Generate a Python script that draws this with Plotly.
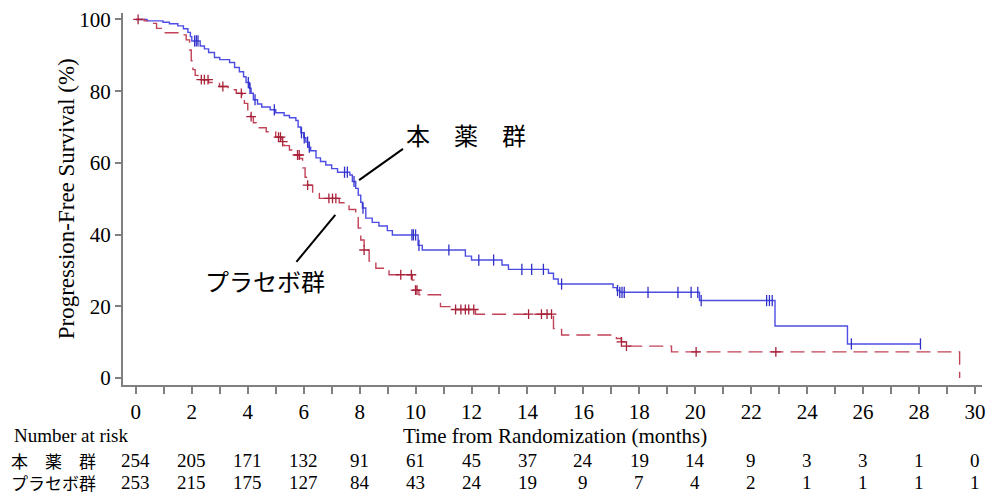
import numpy as np
import plotly.graph_objects as go

# ---- data ----
drug_time = [0, 0.4, 0.97, 1.2, 1.5, 1.7, 1.86, 1.95, 2.0, 2.3, 2.45, 2.6, 2.81, 3.0, 3.35, 3.53, 3.7, 3.85, 3.94,
             4.06, 4.12, 4.2, 4.35, 4.5, 4.8, 5.0, 5.3, 5.49, 5.72, 5.8, 5.9, 6.0, 6.08, 6.15, 6.25, 6.44, 6.6, 6.79,
             7.0, 7.21, 7.65, 7.74, 7.86, 7.95, 8.04, 8.1, 8.22, 8.45, 8.69, 8.99, 9.17, 10.09, 10.24, 11.78, 12.0,
             13.09, 13.32, 14.75, 14.93, 15.1, 17.06, 17.2, 17.3, 20.15, 22.85, 25.44, 28.05]
drug_surv = [100, 99.6, 99.2, 98.8, 98.2, 97.4, 96.4, 95.2, 94.0, 92.6, 91.8, 90.8, 89.4, 88.8, 88.0, 86.6, 85.4,
             84.0, 82.4, 80.8, 79.4, 77.6, 76.4, 75.6, 74.8, 74.0, 73.2, 72.6, 71.8, 70.0, 68.4, 67.0, 65.8, 64.4,
             63.4, 61.4, 60.4, 59.4, 58.4, 57.4, 56.6, 54.8, 52.9, 51.0, 49.0, 47.4, 44.6, 43.4, 42.4, 41.1, 39.9,
             37.0, 35.7, 34.0, 32.9, 31.5, 30.3, 29.2, 27.6, 26.2, 25.2, 24.4, 23.9, 21.6, 14.5, 9.5, 9.5]
drug_censor = [2.1, 2.16, 2.22, 4.02, 4.08, 4.26, 4.95, 5.92, 6.02, 6.14, 6.2, 7.46, 7.56, 7.8, 8.12, 9.87, 9.92,
               10.0, 10.12, 11.19, 12.26, 12.79, 13.8, 14.15, 14.57, 15.22, 17.22, 17.3, 17.38, 17.46, 18.31,
               19.38, 19.85, 20.09, 20.21, 22.55, 22.65, 22.75, 25.58, 28.05]

plac_time = [0, 0.3, 0.5, 0.74, 1.0, 1.63, 1.8, 1.92, 1.98, 2.04, 2.12, 2.22, 2.6, 2.99, 3.3, 3.59, 3.8, 3.88, 4.0,
             4.1, 4.2, 4.3, 4.66, 5.0, 5.19, 5.3, 5.49, 5.7, 5.85, 5.96, 6.05, 6.14, 6.32, 6.56, 7.27, 7.62, 7.86,
             7.95, 8.04, 8.16, 8.34, 8.58, 9.05, 9.88, 9.95, 10.0, 10.12, 10.89, 11.35, 12.14, 14.93, 15.22, 17.18,
             17.36, 17.54, 19.15, 29.45]
plac_surv = [100, 99.6, 98.9, 97.5, 96.3, 95.7, 94.3, 91.5, 88.5, 86.0, 84.4, 83.2, 82.4, 81.3, 80.4, 79.4, 78.4,
             76.6, 74.8, 72.9, 71.2, 69.8, 68.7, 67.2, 65.9, 64.8, 63.6, 62.2, 61.2, 58.6, 56.0, 53.8, 51.5, 50.1,
             48.9, 47.0, 45.0, 41.8, 38.5, 35.7, 32.6, 30.6, 28.8, 27.3, 25.8, 24.5, 23.2, 19.9, 19.1, 17.8, 13.8,
             12.0, 11.0, 10.1, 8.9, 7.3, 0]
plac_censor = [0.08, 2.34, 2.45, 2.58, 3.11, 3.77, 4.12, 5.1, 5.17, 5.25, 5.78, 5.84, 6.14, 6.9, 7.03, 7.15, 8.16,
               9.47, 9.85, 10.0, 10.05, 11.43, 11.62, 11.78, 11.9, 12.08, 14.04, 14.5, 14.7, 14.86, 17.36, 17.54,
               20.03, 22.88]

risk_months = [0, 2, 4, 6, 8, 10, 12, 14, 16, 18, 20, 22, 24, 26, 28, 30]
risk_drug = [254, 205, 171, 132, 91, 61, 45, 37, 24, 19, 14, 9, 3, 3, 1, 0]
risk_plac = [253, 215, 175, 127, 84, 43, 24, 19, 9, 7, 4, 2, 1, 1, 1, 1]

label_drug = "本　薬　群"
label_plac = "プラセボ群"

BLUE = "#4d4de4"
BLUE_MARK = "#3030c8"
RED = "#c24257"
RED_MARK = "#a8223a"
SERIF = "Liberation Serif, Times New Roman, serif"
JP = "Noto Sans CJK JP, sans-serif"


def step_value(t, times, vals):
    i = np.searchsorted(np.asarray(times), t, side="right") - 1
    return vals[max(i, 0)]


fig = go.Figure()
fig.add_trace(go.Scatter(x=drug_time, y=drug_surv, mode="lines", line=dict(shape="hv", color=BLUE, width=1.4),
                         showlegend=False, hoverinfo="skip"))
fig.add_trace(go.Scatter(x=plac_time, y=plac_surv, mode="lines",
                         line=dict(shape="hv", color=RED, width=1.4, dash="14px,7px"),
                         showlegend=False, hoverinfo="skip"))
fig.add_trace(go.Scatter(x=drug_censor, y=[step_value(t, drug_time, drug_surv) for t in drug_censor],
                         mode="markers",
                         marker=dict(symbol="line-ns-open", size=8, color=BLUE_MARK, line=dict(color=BLUE_MARK, width=1.3)),
                         showlegend=False, hoverinfo="skip"))
fig.add_trace(go.Scatter(x=plac_censor, y=[step_value(t, plac_time, plac_surv) for t in plac_censor],
                         mode="markers",
                         marker=dict(symbol="cross-thin-open", size=7, color=RED_MARK, line=dict(color=RED_MARK, width=1.3)),
                         showlegend=False, hoverinfo="skip"))

ann = []
# axis titles
ann.append(dict(text="Progression-Free Survival (%)", textangle=-90, xref="paper", yref="paper",
                x=-0.066, y=0.5, xanchor="center", yanchor="middle", showarrow=False,
                font=dict(family=SERIF, size=23, color="black")))
ann.append(dict(text="Time from Randomization (months)", xref="x", yref="paper", x=15.0, y=-0.137,
                xanchor="center", yanchor="middle", showarrow=False, font=dict(family=SERIF, size=21, color="black")))
ann.append(dict(text="Number at risk", xref="paper", yref="paper", x=-0.129, y=-0.137, xanchor="left",
                yanchor="middle", showarrow=False, font=dict(family=SERIF, size=19, color="black")))
ann.append(dict(text=label_drug, xref="paper", yref="paper", x=-0.133, y=-0.202, xanchor="left",
                yanchor="middle", showarrow=False, font=dict(family=JP, size=17, color="black")))
ann.append(dict(text=label_plac, xref="paper", yref="paper", x=-0.133, y=-0.262, xanchor="left",
                yanchor="middle", showarrow=False, font=dict(family=JP, size=17, color="black")))
for m, a, b in zip(risk_months, risk_drug, risk_plac):
    ann.append(dict(text=str(a), xref="x", yref="paper", x=m, y=-0.202, xanchor="center", yanchor="middle",
                    showarrow=False, font=dict(family=SERIF, size=19, color="black")))
    ann.append(dict(text=str(b), xref="x", yref="paper", x=m, y=-0.262, xanchor="center", yanchor="middle",
                    showarrow=False, font=dict(family=SERIF, size=19, color="black")))
# in-plot group labels
ann.append(dict(text=label_drug, xref="x", yref="y", x=11.8, y=67.8, xanchor="center", yanchor="middle",
                showarrow=False, font=dict(family=JP, size=24, color="black")))
ann.append(dict(text=label_plac, xref="x", yref="y", x=4.63, y=27.3, xanchor="center", yanchor="middle",
                showarrow=False, font=dict(family=JP, size=24, color="black")))

shapes = [
    dict(type="line", xref="x", yref="y", x0=9.55, y0=63.9, x1=7.98, y1=55.2, line=dict(color="black", width=2)),
    dict(type="line", xref="x", yref="y", x0=7.13, y0=45.5, x1=5.74, y1=32.4, line=dict(color="black", width=2)),
]

fig.update_layout(
    width=992, height=493,
    margin=dict(l=123, r=7, t=13, b=108),
    paper_bgcolor="white", plot_bgcolor="white",
    annotations=ann, shapes=shapes,
    xaxis=dict(range=[-0.46, 30.25], tick0=0, dtick=2, ticks="outside", ticklen=7, tickwidth=2,
               tickcolor="#808080", showline=True, linecolor="#808080", linewidth=2, showgrid=False,
               zeroline=False, tickfont=dict(family=SERIF, size=21, color="black"),
               minor=dict(dtick=1, ticks="outside", ticklen=7, tickwidth=2, tickcolor="#808080", showgrid=False)),
    yaxis=dict(range=[-1.95, 101.8], tick0=0, dtick=20, ticks="outside", ticklen=6, tickwidth=2,
               tickcolor="#808080", showline=True, linecolor="#808080", linewidth=2, showgrid=False,
               zeroline=False, tickfont=dict(family=SERIF, size=21, color="black")),
)

fig.write_html("out.html", config={"displayModeBar": False},
               post_script="document.body.style.margin='0';")
